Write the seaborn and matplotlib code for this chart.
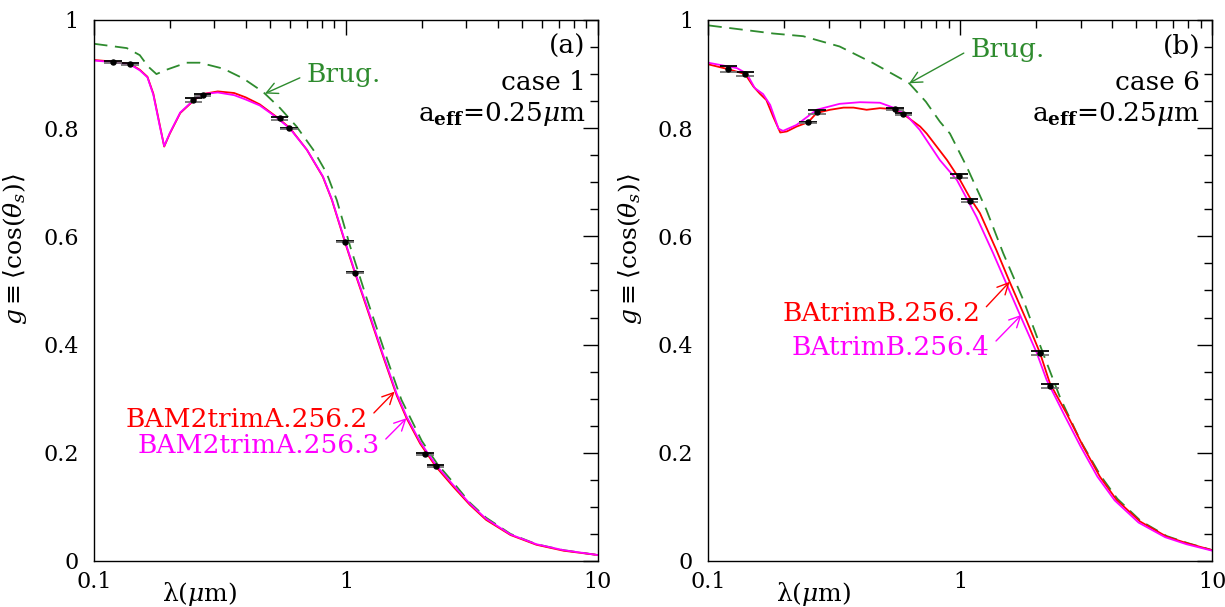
import matplotlib
matplotlib.use('Agg')
import matplotlib.pyplot as plt
from matplotlib.ticker import FixedLocator, MultipleLocator, LogLocator, NullFormatter
import seaborn as sns
import pandas as pd
import numpy as np

# ---- panel (a): case 1 ----
a_red_x = [0.1, 0.12, 0.14, 0.152, 0.163, 0.172, 0.183, 0.19, 0.2, 0.22, 0.25, 0.27, 0.31, 0.36, 0.40,
           0.455, 0.53, 0.6, 0.7, 0.81, 0.88, 0.99, 1.085, 1.2, 1.4, 1.59, 1.74, 1.97, 2.27, 2.67, 3.1,
           3.6, 4.5, 5.7, 7.3, 10]
a_red_y = [0.926, 0.923, 0.918, 0.908, 0.895, 0.864, 0.803, 0.766, 0.790, 0.828, 0.852, 0.863, 0.868,
           0.865, 0.857, 0.844, 0.821, 0.800, 0.760, 0.710, 0.667, 0.590, 0.533, 0.473, 0.380, 0.306,
           0.264, 0.217, 0.175, 0.137, 0.104, 0.076, 0.048, 0.030, 0.019, 0.011]
a_mag_x = [0.1, 0.12, 0.14, 0.152, 0.163, 0.172, 0.183, 0.19, 0.2, 0.22, 0.25, 0.27, 0.31, 0.36, 0.40,
           0.455, 0.53, 0.6, 0.7, 0.81, 0.88, 0.99, 1.085, 1.2, 1.4, 1.59, 1.74, 1.97, 2.27, 2.67, 3.1,
           3.6, 4.5, 5.7, 7.3, 10]
a_mag_y = [0.925, 0.922, 0.917, 0.907, 0.894, 0.862, 0.801, 0.767, 0.791, 0.829, 0.853, 0.863, 0.866,
           0.861, 0.853, 0.842, 0.820, 0.799, 0.760, 0.711, 0.668, 0.592, 0.535, 0.476, 0.383, 0.309,
           0.267, 0.220, 0.178, 0.140, 0.106, 0.078, 0.049, 0.031, 0.020, 0.011]
a_brug_x = [0.1, 0.135, 0.152, 0.164, 0.177, 0.194, 0.233, 0.263, 0.326, 0.391, 0.469, 0.548, 0.637,
            0.742, 0.838, 0.92, 1.04, 1.2, 1.46, 1.66, 2.0, 2.3, 2.7, 3.1, 3.6, 4.5, 5.7, 7.3, 10]
a_brug_y = [0.956, 0.948, 0.935, 0.914, 0.900, 0.908, 0.921, 0.921, 0.910, 0.892, 0.867, 0.837, 0.803,
            0.760, 0.717, 0.667, 0.581, 0.490, 0.372, 0.298, 0.222, 0.180, 0.142, 0.108, 0.080, 0.050,
            0.031, 0.020, 0.011]
a_pts_x = [0.119, 0.139, 0.248, 0.270, 0.545, 0.595, 0.99, 1.085, 2.06, 2.27]
a_pts_y = [0.923, 0.918, 0.852, 0.862, 0.818, 0.800, 0.590, 0.533, 0.198, 0.175]
a_pts_dy = [0.002, 0.002, 0.003, 0.002, 0.002, 0.001, 0.001, 0.001, 0.002, 0.002]

# ---- panel (b): case 6 ----
b_red_x = [0.1, 0.12, 0.14, 0.151, 0.16, 0.17, 0.181, 0.193, 0.205, 0.224, 0.249, 0.269, 0.304, 0.344,
           0.377, 0.425, 0.48, 0.55, 0.594, 0.693, 0.736, 0.886, 0.99, 1.09, 1.197, 1.39, 1.57, 1.83,
           2.07, 2.27, 2.64, 3.08, 3.58, 4.17, 5.17, 6.59, 7.91, 10]
b_red_y = [0.918, 0.909, 0.900, 0.877, 0.864, 0.852, 0.821, 0.792, 0.794, 0.803, 0.811, 0.828, 0.834,
           0.838, 0.838, 0.834, 0.837, 0.835, 0.826, 0.803, 0.790, 0.741, 0.707, 0.672, 0.643, 0.575,
           0.516, 0.445, 0.385, 0.328, 0.273, 0.211, 0.156, 0.113, 0.073, 0.045, 0.033, 0.020]
b_mag_x = [0.1, 0.13, 0.142, 0.153, 0.165, 0.176, 0.19, 0.198, 0.224, 0.269, 0.332, 0.40, 0.48, 0.55,
           0.612, 0.69, 0.83, 0.97, 1.16, 1.35, 1.725, 2.01, 2.2, 2.6, 3.0, 3.5, 4.1, 5.1, 6.5, 7.9, 10]
b_mag_y = [0.921, 0.911, 0.901, 0.874, 0.863, 0.843, 0.799, 0.795, 0.806, 0.834, 0.845, 0.848, 0.847,
           0.837, 0.824, 0.797, 0.741, 0.704, 0.636, 0.569, 0.455, 0.385, 0.335, 0.268, 0.212, 0.156,
           0.112, 0.071, 0.044, 0.031, 0.019]
b_brug_x = [0.1, 0.181, 0.238, 0.332, 0.452, 0.627, 0.73, 0.83, 0.91, 1.06, 1.27, 1.48, 1.78, 2.13,
            2.5, 3.0, 3.6, 4.2, 5.2, 6.6, 8.0, 10]
b_brug_y = [0.990, 0.975, 0.970, 0.951, 0.920, 0.883, 0.849, 0.812, 0.790, 0.729, 0.649, 0.569, 0.482,
            0.384, 0.300, 0.222, 0.158, 0.115, 0.074, 0.046, 0.033, 0.020]
b_pts_x = [0.120, 0.140, 0.249, 0.270, 0.551, 0.594, 0.99, 1.09, 2.07, 2.27]
b_pts_y = [0.909, 0.900, 0.811, 0.830, 0.835, 0.826, 0.712, 0.666, 0.385, 0.323]
b_pts_dy = [0.005, 0.003, 0.001, 0.003, 0.002, 0.002, 0.004, 0.003, 0.004, 0.004]

y_ticks = [0, 0.2, 0.4, 0.6, 0.8, 1]
y_ticklabels = ['0', '0.2', '0.4', '0.6', '0.8', '1']
x_ticks = [0.1, 1, 10]
x_ticklabels = ['0.1', '1', '10']

RED = '#ff0000'
MAG = '#ff00ff'
GRN = '#2e8b2e'
FS = 19


def build_df(series):
    frames = []
    for name, xs, ys in series:
        frames.append(pd.DataFrame({'lam': xs, 'g': ys, 'curve': [name] * len(xs)}))
    return pd.concat(frames, axis=0, ignore_index=True)


def plot_panel(ax, df, names, pts, panel, case, notes):
    palette = {names[0]: GRN, names[1]: RED, names[2]: MAG}
    dashes = {names[0]: (7.5, 4.2), names[1]: '', names[2]: ''}
    sns.lineplot(ax=ax, data=df, x='lam', y='g', hue='curve', style='curve', hue_order=names,
                 style_order=names, palette=palette, dashes=dashes, lw=1.3, legend=False,
                 sort=False, estimator=None)

    # horizontal bars with a dot, two lines for the small vertical spread
    px, py, pdy = (np.array(v) for v in pts)
    f = 10 ** 0.0345
    ax.hlines(py + pdy, px / f, px * f, color='black', lw=1.3, zorder=5)
    ax.hlines(py - pdy, px / f, px * f, color='0.45', lw=1.3, zorder=5)
    ax.plot(px, py, 'o', color='black', ms=3.6, zorder=6)

    ax.set_xscale('log')
    ax.set_xlim(0.1, 10)
    ax.set_ylim(0, 1)
    ax.xaxis.set_major_locator(FixedLocator(x_ticks))
    ax.set_xticklabels(x_ticklabels)
    ax.xaxis.set_minor_locator(LogLocator(base=10, subs=np.arange(2, 10)))
    ax.xaxis.set_minor_formatter(NullFormatter())
    ax.yaxis.set_major_locator(FixedLocator(y_ticks))
    ax.set_yticklabels(y_ticklabels)
    ax.yaxis.set_minor_locator(MultipleLocator(0.05))
    ax.tick_params(which='both', direction='in', top=True, right=True, width=1.0, color='black',
                   labelcolor='black')
    ax.tick_params(which='major', length=11, labelsize=16)
    ax.tick_params(axis='y', which='major', pad=11)
    ax.tick_params(axis='x', which='major', pad=7)
    ax.tick_params(which='minor', length=5.5)
    for sp in ax.spines.values():
        sp.set_linewidth(1.0)
        sp.set_color('black')

    ax.set_xlabel('λ($\\mu$m)', fontsize=18, color='black')
    ax.xaxis.set_label_coords(0.21, -0.036)
    ax.set_ylabel(r'$g \equiv \langle\cos(\theta_s)\rangle$', fontsize=18, color='black')
    ax.yaxis.set_label_coords(-0.128, 0.577)

    ax.text(0.976, 0.951, panel, transform=ax.transAxes, ha='right', va='center', fontsize=FS,
            color='black')
    ax.text(0.976, 0.885, case, transform=ax.transAxes, ha='right', va='center', fontsize=FS,
            color='black')
    ax.text(0.976, 0.826, r'a$_{\mathbf{eff}}$=0.25$\mu$m', transform=ax.transAxes,
            ha='right', va='center', fontsize=FS, color='black')

    for txt, color, xy, xytext, ha in notes:
        ax.annotate(txt, xy=xy, xytext=xytext, ha=ha, va='baseline', color=color, fontsize=FS,
                    arrowprops=dict(arrowstyle='->', color=color, lw=1.0, shrinkA=3, shrinkB=0,
                                    mutation_scale=20, relpos=(1.0 if ha == 'right' else 0.0, 0.5)))


if __name__ == "__main__":
    sns.set_theme(style='white')
    plt.rcParams['font.family'] = ['DejaVu Serif']
    plt.rcParams['mathtext.fontset'] = 'dejavuserif'
    plt.rcParams['text.color'] = 'black'

    fig = plt.figure(figsize=(12.25, 6.07), dpi=100)
    ax_a = fig.add_axes([0.0767, 0.0758, 0.4114, 0.8913])
    ax_b = fig.add_axes([0.5782, 0.0758, 0.4114, 0.8913])

    names_a = ['Brug.', 'BAM2trimA.256.2', 'BAM2trimA.256.3']
    df_a = build_df([(names_a[0], a_brug_x, a_brug_y), (names_a[1], a_red_x, a_red_y),
                     (names_a[2], a_mag_x, a_mag_y)])
    notes_a = [('Brug.', GRN, (0.477, 0.864), (0.70, 0.885), 'left'),
               ('BAM2trimA.256.2', RED, (1.56, 0.313), (1.22, 0.248), 'right'),
               ('BAM2trimA.256.3', MAG, (1.74, 0.264), (1.36, 0.200), 'right')]
    plot_panel(ax_a, df_a, names_a, (a_pts_x, a_pts_y, a_pts_dy), '(a)', 'case 1', notes_a)

    names_b = ['Brug.', 'BAtrimB.256.2', 'BAtrimB.256.4']
    df_b = build_df([(names_b[0], b_brug_x, b_brug_y), (names_b[1], b_red_x, b_red_y),
                     (names_b[2], b_mag_x, b_mag_y)])
    notes_b = [('Brug.', GRN, (0.627, 0.883), (1.10, 0.932), 'left'),
               ('BAtrimB.256.2', RED, (1.57, 0.516), (1.20, 0.444), 'right'),
               ('BAtrimB.256.4', MAG, (1.75, 0.455), (1.31, 0.381), 'right')]
    plot_panel(ax_b, df_b, names_b, (b_pts_x, b_pts_y, b_pts_dy), '(b)', 'case 6', notes_b)

    plt.savefig('out.png', dpi=100)
